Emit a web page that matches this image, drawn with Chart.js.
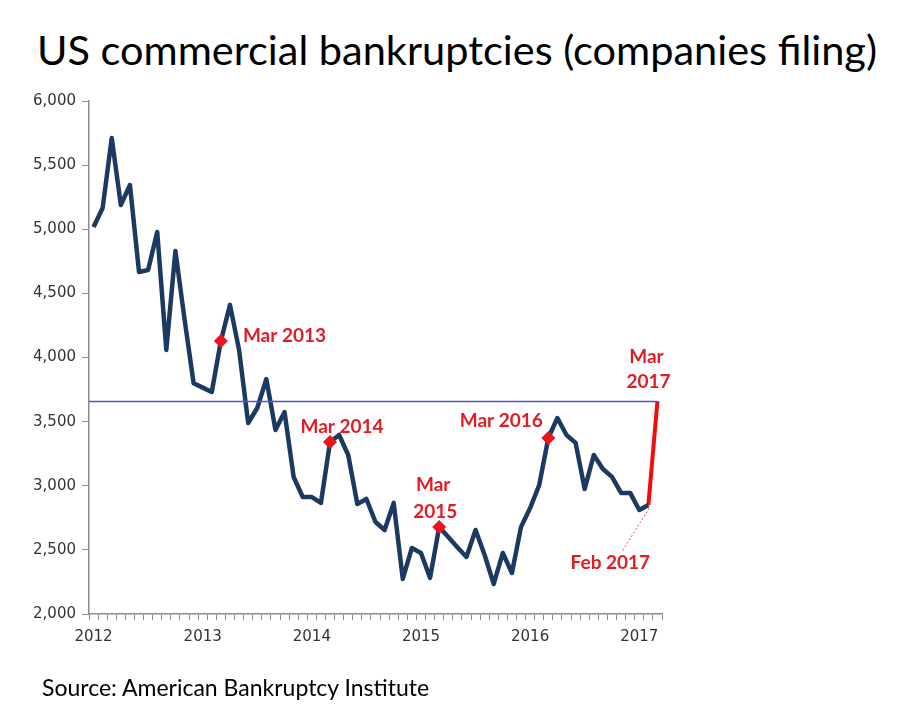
<!DOCTYPE html>
<html>
<head>
<meta charset="utf-8">
<script src="https://cdn.jsdelivr.net/npm/chart.js@4"></script>
<style>
  body { margin: 0; background: #fff; }
  #wrap { position: relative; width: 912px; height: 726px; overflow: hidden; }
  #chart { position: absolute; left: 0; top: 0; }
  #title { position: absolute; left: 0; width: 914px; top: 24px; text-align: center;
           font-family: Lato, sans-serif; font-size: 41.5px; color: #000; white-space: nowrap; }
  #source { position: absolute; left: 42px; top: 673px; font-family: Lato, sans-serif;
            font-size: 23px; color: #000; }
</style>
</head>
<body>
<div id="wrap">
  <div id="title">US commercial bankruptcies (companies filing)</div>
  <canvas id="chart" width="912" height="726"></canvas>
  <div id="source">Source: American Bankruptcy Institute</div>
</div>
<script>
// Monthly commercial filings, Jan 2012 - Mar 2017
const years = [2012, 2013, 2014, 2015, 2016, 2017];
const monthNames = ['Jan', 'Feb', 'Mar', 'Apr', 'May', 'Jun', 'Jul', 'Aug', 'Sep', 'Oct', 'Nov', 'Dec'];
const filings = [
    5017, 5166, 5711, 5189, 5345, 4667, 4682, 4979, 4059, 4830, 4300, 3800, // 2012
    3765, 3731, 4129, 4410, 4058, 3489, 3606, 3832, 3435, 3575, 3068, 2912, // 2013
    2912, 2866, 3341, 3396, 3240, 2858, 2897, 2717, 2655, 2866, 2273, 2515, // 2014
    2476, 2281, 2678, 2600, 2520, 2445, 2655, 2460, 2234, 2476, 2320, 2679, // 2015
    2826, 3006, 3372, 3528, 3396, 3334, 2975, 3240, 3131, 3069, 2944, 2944, // 2016
    2811, 2850, 3660                                                        // 2017
];
const markedMonths = ['Mar 2013', 'Mar 2014', 'Mar 2015', 'Mar 2016'];
const lastMonth = 'Mar 2017';
const prevMonth = 'Feb 2017';
const yTicks = { min: 2000, max: 6000, step: 500 };

// build category labels
const months = [];
years.forEach(yr => monthNames.forEach(m => months.push(m + ' ' + yr)));
months.length = filings.length;

const lastIdx = months.indexOf(lastMonth);
const prevIdx = months.indexOf(prevMonth);
const mainLine = filings.map((v, i) => i <= prevIdx ? v : null);
const jumpLine = filings.map((v, i) => i >= prevIdx ? v : null);
const markers = filings.map((v, i) => markedMonths.includes(months[i]) ? v : null);

const RED = '#e31b23';

// level line, labels and leader drawn on top of the chart
const annotations = {
    id: 'annotations',
    afterDatasetsDraw(chart) {
        const { ctx, chartArea, scales: { x, y } } = chart;
        const px = m => x.getPixelForValue(months.indexOf(m));
        const py = m => y.getPixelForValue(filings[months.indexOf(m)]);

        ctx.save();
        // level of latest month
        const ly = Math.round(y.getPixelForValue(filings[lastIdx])) + 0.5;
        ctx.strokeStyle = '#4b57c9';
        ctx.lineWidth = 1.3;
        ctx.beginPath();
        ctx.moveTo(chartArea.left, ly);
        ctx.lineTo(px(lastMonth), ly);
        ctx.stroke();

        ctx.fillStyle = RED;
        ctx.font = 'bold 19px Lato, sans-serif';
        ctx.textBaseline = 'middle';

        ctx.textAlign = 'left';
        ctx.fillText('Mar 2013', px('Mar 2013') + 22, py('Mar 2013') - 5);

        ctx.textAlign = 'center';
        ctx.fillText('Mar 2014', px('Mar 2014') + 12, py('Mar 2014') - 15);
        ctx.fillText('Mar', px('Mar 2015') - 6, py('Mar 2015') - 42);
        ctx.fillText('2015', px('Mar 2015') - 4, py('Mar 2015') - 15);
        ctx.fillText('Mar 2016', px('Mar 2016') - 47, py('Mar 2016') - 17);
        ctx.fillText('Mar', px(lastMonth) - 11, py(lastMonth) - 44);
        ctx.fillText('2017', px(lastMonth) - 9, py(lastMonth) - 19);

        const fx = px(prevMonth), fy = py(prevMonth);
        ctx.fillText('Feb 2017', fx - 38, fy + 58);

        // dashed leader to Feb 2017
        ctx.strokeStyle = RED;
        ctx.lineWidth = 0.8;
        ctx.setLineDash([2, 2]);
        ctx.beginPath();
        ctx.moveTo(fx + 1, fy + 3);
        ctx.lineTo(fx - 26, fy + 46);
        ctx.stroke();
        ctx.restore();
    }
};

new Chart(document.getElementById('chart'), {
    type: 'line',
    data: {
        labels: months,
        datasets: [
            {
                data: markers,
                showLine: false,
                pointStyle: 'rectRot',
                pointRadius: 7,
                pointBackgroundColor: '#e8141e',
                pointBorderWidth: 0,
                order: 0
            },
            {
                data: mainLine,
                borderColor: '#1c3a61',
                borderWidth: 4.5,
                pointRadius: 0,
                tension: 0,
                borderJoinStyle: 'round',
                order: 1
            },
            {
                data: jumpLine,
                borderColor: '#f00d0d',
                borderWidth: 4,
                pointRadius: 0,
                tension: 0,
                order: 2
            }
        ]
    },
    options: {
        responsive: false,
        animation: false,
        layout: { padding: { left: 0, top: 101, right: 250, bottom: 72 } },
        plugins: { legend: { display: false }, tooltip: { enabled: false } },
        scales: {
            x: {
                offset: true,
                afterFit: s => { s.height = 40; },
                grid: { offset: true, drawOnChartArea: false, tickLength: 6, color: '#8c8c8c' },
                border: { color: '#8c8c8c', width: 1.5 },
                ticks: {
                    autoSkip: false,
                    maxRotation: 0,
                    padding: 8,
                    color: '#333',
                    font: { family: 'DejaVu Sans', size: 15 },
                    callback: (v, i) => months[i].startsWith('Jan') ? months[i].slice(4) : ''
                }
            },
            y: {
                min: yTicks.min,
                max: yTicks.max,
                afterFit: s => { s.width = 89; },
                grid: { drawOnChartArea: false, tickLength: 7, color: '#8c8c8c' },
                border: { color: '#8c8c8c', width: 1.5 },
                ticks: {
                    stepSize: yTicks.step,
                    padding: 6,
                    color: '#333',
                    font: { family: 'DejaVu Sans', size: 15 },
                    callback: v => v.toLocaleString('en-US')
                }
            }
        }
    },
    plugins: [annotations]
});
</script>
</body>
</html>
